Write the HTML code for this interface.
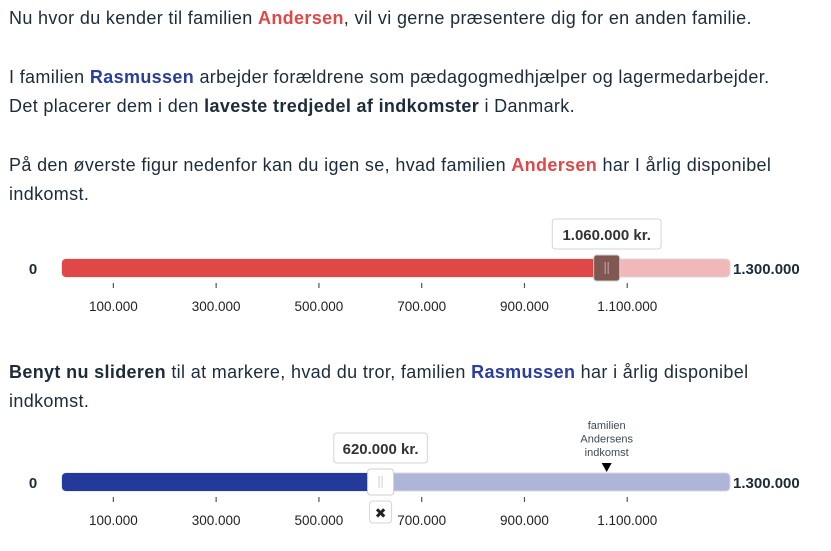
<!DOCTYPE html>
<html lang="da">
<head>
<meta charset="utf-8">
<style>
  html,body{margin:0;padding:0;background:#fff;}
  body{width:831px;height:551px;position:relative;overflow:hidden;font-family:"Liberation Sans",sans-serif;color:#1d2b3a;}
  .p{position:absolute;left:9px;font-size:18px;letter-spacing:0.35px;line-height:29px;margin:0;white-space:nowrap;}
  .red{color:#e04848;font-weight:bold;}
  .blue{color:#2a3e9c;font-weight:bold;}
  b{font-weight:bold;}
  svg{position:absolute;left:0;top:0;}
</style>
</head>
<body>
<p class="p" style="top:4px;">Nu hvor du kender til familien <span class="red">Andersen</span>, vil vi gerne præsentere dig for en anden familie.</p>
<p class="p" style="top:63px;">I familien <span class="blue">Rasmussen</span> arbejder forældrene som pædagogmedhjælper og lagermedarbejder.<br>Det placerer dem i den <b>laveste tredjedel af indkomster</b> i Danmark.</p>
<p class="p" style="top:151px;">På den øverste figur nedenfor kan du igen se, hvad familien <span class="red">Andersen</span> har I årlig disponibel<br>indkomst.</p>
<p class="p" style="top:358px;"><b>Benyt nu slideren</b> til at markere, hvad du tror, familien <span class="blue">Rasmussen</span> har i årlig disponibel<br>indkomst.</p>

<svg id="chart" width="831" height="551"></svg>

<script>
const tickValues = [100000, 300000, 500000, 700000, 900000, 1100000];
const tickLabels = ["100.000", "300.000", "500.000", "700.000", "900.000", "1.100.000"];
const sliderMax = [1300000];
const andersenValue = [1060000];
const rasmussenValue = [620000];
const valueLabels = ["1.060.000 kr.", "620.000 kr."];

const NS = "http://www.w3.org/2000/svg";
const svg = document.getElementById("chart");
const x0 = 62, x1 = 730;
function xScale(v){ return x0 + (v / sliderMax[0]) * (x1 - x0); }
function mk(tag, attrs, parent){
  const e = document.createElementNS(NS, tag);
  for (const k in attrs) e.setAttribute(k, attrs[k]);
  (parent || svg).appendChild(e);
  return e;
}
function txt(s, attrs){ const t = mk("text", attrs); t.textContent = s; return t; }

function slider(cy, value, fill, light, thumbFill, gripColor, label, name){
  const g = mk("g", {});
  
  
  const zl = txt("0", {x:33, y:cy+6, "font-size":15, fill:"#1d2b3a", "text-anchor":"middle", "font-weight":"600", "font-family":"Liberation Sans, sans-serif"});
  
  
  const ml = txt("1.300.000", {x:733, y:cy+6, "font-size":15, fill:"#1d2b3a", "font-weight":"600", "font-family":"Liberation Sans, sans-serif"});
  
  
  const track = mk("rect", {x:x0, y:cy-9, width:x1-x0, height:18, rx:4, fill:light, stroke:"#d8d8d8", "stroke-width":1}, g);
  
  
  const xv = xScale(value);
  const f = mk("rect", {x:x0, y:cy-9, width:xv-x0, height:18, rx:4, fill:fill}, g);
  
  
  const th = mk("rect", {x:xv-13, y:cy-13, width:26, height:26, rx:3, fill:thumbFill, stroke:"#cfcfcf", "stroke-width":1}, g);
  
  
  mk("line", {x1:xv-1.5, y1:cy-6, x2:xv-1.5, y2:cy+6, stroke:gripColor, "stroke-width":1}, g);
  mk("line", {x1:xv+1.5, y1:cy-6, x2:xv+1.5, y2:cy+6, stroke:gripColor, "stroke-width":1}, g);
  const w = label.length * 7.6 + 10;
  const tb = mk("rect", {x:xv-w/2, y:cy-49, width:w, height:30, rx:3, fill:"#fff", stroke:"#d5d5d5", "stroke-width":1});
  
  
  const tl = txt(label, {x:xv, y:cy-28, "font-size":15, "font-weight":"bold", fill:"#333", "text-anchor":"middle", "font-family":"Liberation Sans, sans-serif"});
  
  
  tickValues.forEach((v, i) => {
    const x = xScale(v);
    const tk = mk("line", {x1:x, y1:cy+15, x2:x, y2:cy+20, stroke:"#555", "stroke-width":1.2});
    
    
    const lb = txt(tickLabels[i], {x:x, y:cy+43, "font-size":13.5, fill:"#222", "text-anchor":"middle", "font-family":"Liberation Sans, sans-serif"});
    
    
  });
  return xv;
}

slider(268, andersenValue[0], "#e04848", "#f0b8b8", "#7f5753", "#c9a9a6", valueLabels[0], "andersen-slider");
const xr = slider(482, rasmussenValue[0], "#233a9a", "#adb5d9", "#ffffff", "#cccccc", valueLabels[1], "rasmussen-slider");

const rb = mk("rect", {x:xr-11, y:501, width:22, height:22, rx:3, fill:"#fff", stroke:"#d5d5d5", "stroke-width":1});


const rx = txt("✖", {x:xr, y:518, "font-size":14, fill:"#222", "text-anchor":"middle", "font-family":"DejaVu Sans, sans-serif"});



const xa = xScale(andersenValue[0]);
["familien", "Andersens", "indkomst"].forEach((s, i) => {
  const t = txt(s, {x:xa, y:429 + i*13.5, "font-size":11, fill:"#3d4a56", "text-anchor":"middle", "font-family":"Liberation Sans, sans-serif"});
  
  
});
const arrow = mk("path", {d:`M${xa-5},463 L${xa+5},463 L${xa},472 Z`, fill:"#000"});


</script>
</body>
</html>
